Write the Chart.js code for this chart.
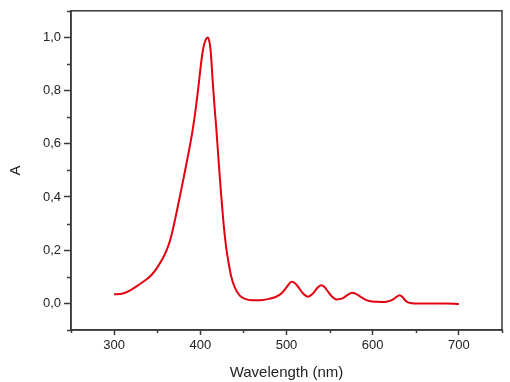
<!DOCTYPE html>
<html>
<head>
<meta charset="utf-8">
<script src="https://cdn.jsdelivr.net/npm/chart.js@4"></script>
<style>
  body { margin: 0; background: #fff; }
  #wrap { width: 510px; height: 382px; position: relative; }
</style>
</head>
<body>
<div id="wrap"><canvas id="spectrum"></canvas></div>
<script>
// spectrum
const wavelength = [300, 310, 318, 329, 341, 348, 355, 361, 366, 373, 380, 386, 391, 395, 398, 402, 405, 408.7, 410.5, 412, 414.5, 416.5, 418.5, 420.5, 422.5, 424.5, 427, 430, 433, 436, 440, 445.5, 452, 460, 469, 480, 488, 495, 501, 506, 510, 514, 519, 525, 530, 535, 540, 544, 548, 553, 558, 565, 571, 576, 581, 586, 592, 597, 605, 612, 617, 622, 627, 631, 634, 637, 641, 645, 655, 670, 685, 700];
const absorbance = [0.034, 0.037, 0.048, 0.071, 0.099, 0.125, 0.161, 0.2, 0.249, 0.35, 0.461, 0.56, 0.649, 0.74, 0.82, 0.93, 0.98, 1.0, 0.985, 0.95, 0.83, 0.74, 0.66, 0.57, 0.48, 0.395, 0.3, 0.211, 0.15, 0.099, 0.06, 0.03, 0.017, 0.012, 0.012, 0.017, 0.025, 0.04, 0.065, 0.081, 0.076, 0.06, 0.038, 0.025, 0.035, 0.055, 0.068, 0.062, 0.045, 0.025, 0.015, 0.019, 0.032, 0.04, 0.035, 0.025, 0.013, 0.008, 0.006, 0.005, 0.007, 0.012, 0.023, 0.031, 0.026, 0.014, 0.004, 0.001, 0.0, 0.0, 0.0, -0.002];

const xMajor = [300, 400, 500, 600, 700];
const yMajor = [0.0, 0.2, 0.4, 0.6, 0.8, 1.0];

const points = wavelength.map((w, i) => ({ x: w, y: absorbance[i] }));
const axisColor = "#3a3a3a";

function isXMajor(v) { return xMajor.includes(Math.round(v)); }
function isYMajor(v) { return yMajor.some(m => Math.abs(m - v) < 1e-6); }

// frame + short minor ticks
const framePlugin = {
  id: "frame",
  afterDraw(chart) {
    const ctx = chart.ctx;
    const a = chart.chartArea;
    ctx.save();
    ctx.strokeStyle = axisColor;
    ctx.lineWidth = 1.5;
    ctx.strokeRect(a.left, a.top, a.right - a.left, a.bottom - a.top);

    const xs = chart.scales.x;
    xs.ticks.forEach(t => {
      if (isXMajor(t.value)) return;
      const px = Math.round(xs.getPixelForValue(t.value)) + 0.5;
      ctx.beginPath();
      ctx.moveTo(px, a.bottom);
      ctx.lineTo(px, a.bottom + 3);
      ctx.stroke();
    });
    const ys = chart.scales.y;
    ys.ticks.forEach(t => {
      if (isYMajor(t.value)) return;
      const py = Math.round(ys.getPixelForValue(t.value)) + 0.5;
      ctx.beginPath();
      ctx.moveTo(a.left, py);
      ctx.lineTo(a.left - 4, py);
      ctx.stroke();
    });
    ctx.restore();
  }
};

new Chart(document.getElementById("spectrum").getContext("2d"), {
  type: "scatter",
  data: {
    datasets: [
      {
        data: points,
        showLine: true,
        borderColor: "#e3000f",
        borderWidth: 2,
        pointRadius: 0,
        cubicInterpolationMode: "monotone",
        fill: false,
      },
    ],
  },
  options: {
    responsive: true,
    maintainAspectRatio: false,
    animation: false,
    layout: { padding: { top: 10, right: 8, left: 0, bottom: 0 } },
    plugins: {
      legend: { display: false },
      tooltip: { enabled: false },
    },
    scales: {
      x: {
        type: "linear",
        min: 250,
        max: 750,
        afterFit: s => { s.height = 52; },
        ticks: {
          stepSize: 50,
          autoSkip: false,
          maxRotation: 0,
          padding: 3,
          color: "#222",
          font: { family: "Liberation Sans", size: 13 },
          callback: v => (isXMajor(v) ? String(v) : ""),
        },
        grid: {
          drawOnChartArea: false,
          tickLength: 5,
          tickWidth: 1.5,
          tickColor: c => (c.tick && isXMajor(c.tick.value) ? axisColor : "rgba(0,0,0,0)"),
        },
        border: { color: axisColor, width: 1.5 },
        title: {
          display: true,
          text: "Wavelength (nm)",
          color: "#222",
          font: { family: "Liberation Sans", size: 15 },
          padding: { top: 2, bottom: 0 },
        },
      },
      y: {
        min: -0.1,
        max: 1.1,
        afterFit: s => { s.width = 71; },
        ticks: {
          stepSize: 0.1,
          autoSkip: false,
          padding: 3,
          color: "#222",
          font: { family: "Liberation Sans", size: 13 },
          callback: v => (isYMajor(v) ? v.toFixed(1).replace(".", ",") : ""),
        },
        grid: {
          drawOnChartArea: false,
          tickLength: 7,
          tickWidth: 1.5,
          tickColor: c => (c.tick && isYMajor(c.tick.value) ? axisColor : "rgba(0,0,0,0)"),
        },
        border: { color: axisColor, width: 1.5 },
        title: {
          display: true,
          text: "A",
          color: "#222",
          font: { family: "Liberation Sans", size: 15 },
          padding: { top: 7, bottom: 0 },
        },
      },
    },
  },
  plugins: [framePlugin],
});
</script>
</body>
</html>
